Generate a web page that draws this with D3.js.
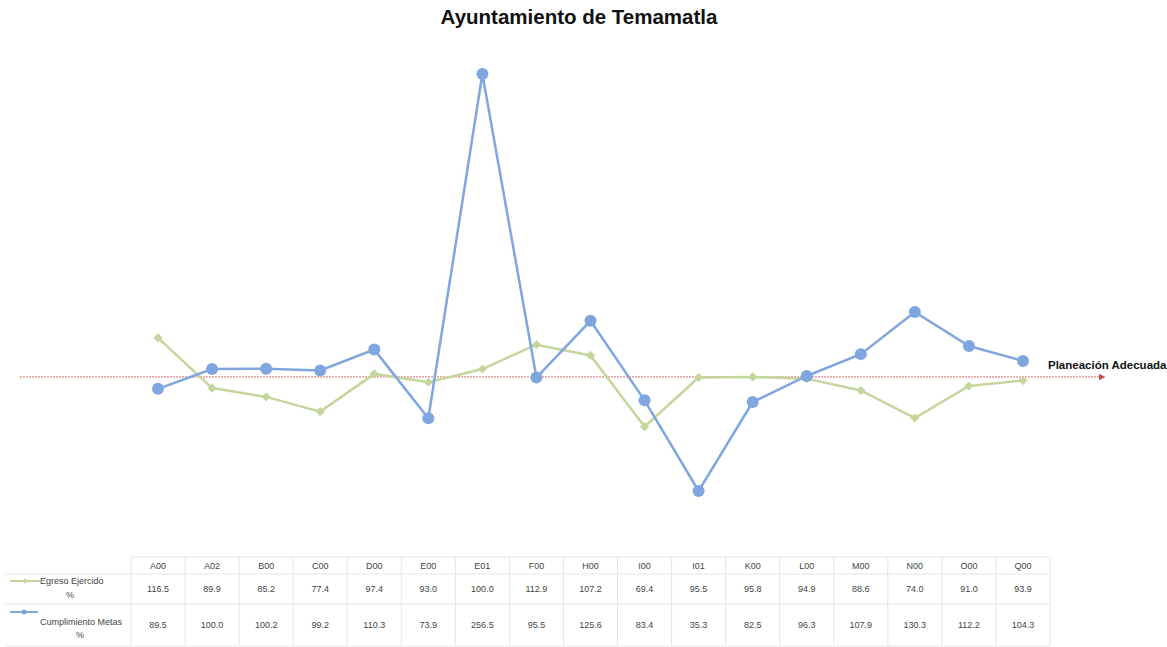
<!DOCTYPE html>
<html>
<head>
<meta charset="utf-8">
<script src="https://cdn.jsdelivr.net/npm/d3@7"></script>
<style>
  body { margin: 0; background: #fff; }
  svg { font-family: "Liberation Sans", Arial, sans-serif; }
</style>
</head>
<body>
<svg id="chart" width="1167" height="647"></svg>
<script>
const categories = ["A00","A02","B00","C00","D00","E00","E01","F00","H00","I00","I01","K00","L00","M00","N00","O00","Q00"];
const egreso = [116.5, 89.9, 85.2, 77.4, 97.4, 93.0, 100.0, 112.9, 107.2, 69.4, 95.5, 95.8, 94.9, 88.6, 74.0, 91.0, 93.9];
const metas = [89.5, 100.0, 100.2, 99.2, 110.3, 73.9, 256.5, 95.5, 125.6, 83.4, 35.3, 82.5, 96.3, 107.9, 130.3, 112.2, 104.3];
const seriesNames = [["Egreso Ejercido", "%"], ["Cumplimiento Metas", "%"]];
const planeacion = 95.8;

const svg = d3.select("#chart");

const xScale = d3.scaleBand()
                .domain(categories)
                .range([131, 1050])
                .padding(0);
const cx = d => xScale(d) + xScale.bandwidth() / 2;

const yScale = d3.scaleLinear()
                .domain([20, 270])
                .range([519.8, 48.6]);

const green = "#c4d69c";
const blue = "#7fa6de";

// title
svg.append("text")
   .attr("x", 579).attr("y", 24)
   .attr("text-anchor", "middle")
   .attr("font-size", 20.5).attr("font-weight", "bold")
   .attr("fill", "#111")
   .text("Ayuntamiento de Temamatla");

// reference arrow
svg.append("defs").append("marker")
   .attr("id", "arrow")
   .attr("viewBox", "0 0 10 10")
   .attr("refX", 5).attr("refY", 5)
   .attr("markerWidth", 7).attr("markerHeight", 7)
   .attr("orient", "auto")
   .append("path")
   .attr("d", "M0,0 L10,5 L0,10 z")
   .attr("fill", "#c0504d");

svg.append("line")
   .attr("x1", 20).attr("x2", 1102)
   .attr("y1", yScale(planeacion)).attr("y2", yScale(planeacion))
   .attr("stroke", "#e06666")
   .attr("stroke-width", 1)
   .attr("stroke-dasharray", "2,1")
   .attr("marker-end", "url(#arrow)");

svg.append("text")
   .attr("x", 1048).attr("y", yScale(planeacion) - 8)
   .attr("font-size", 11.5).attr("font-weight", "bold")
   .attr("fill", "#111")
   .text("Planeación Adecuada");

const line = d3.line()
               .x((d, i) => cx(categories[i]))
               .y(d => yScale(d));

// green series
svg.append("path")
   .datum(egreso)
   .attr("d", line)
   .attr("fill", "none")
   .attr("stroke", green)
   .attr("stroke-width", 2.5);

const diamond = d3.symbol().type(d3.symbolSquare).size(42);
svg.selectAll(".eg")
   .data(egreso)
   .enter().append("path")
   .attr("class", "eg")
   .attr("d", diamond)
   .attr("transform", (d, i) => `translate(${cx(categories[i])},${yScale(d)}) rotate(45)`)
   .attr("fill", green);

// blue series
svg.append("path")
   .datum(metas)
   .attr("d", line)
   .attr("fill", "none")
   .attr("stroke", blue)
   .attr("stroke-width", 2.5);

svg.selectAll(".mt")
   .data(metas)
   .enter().append("circle")
   .attr("class", "mt")
   .attr("cx", (d, i) => cx(categories[i]))
   .attr("cy", d => yScale(d))
   .attr("r", 6)
   .attr("fill", blue);

// data table
const rowY = [557, 574, 604, 646];
const grid = "#e6e6e6";
const table = svg.append("g").attr("font-size", 9).attr("fill", "#444");

table.append("line")
     .attr("x1", 131).attr("x2", 1050)
     .attr("y1", rowY[0]).attr("y2", rowY[0])
     .attr("stroke", grid);
rowY.slice(1).forEach(y => {
  table.append("line")
       .attr("x1", 5).attr("x2", 1050)
       .attr("y1", y).attr("y2", y)
       .attr("stroke", grid);
});
categories.concat([null]).forEach((c, i) => {
  const x = c ? xScale(c) : 1050;
  table.append("line")
       .attr("x1", x).attr("x2", x)
       .attr("y1", rowY[0]).attr("y2", rowY[3])
       .attr("stroke", grid);
});

table.selectAll(".hdr")
     .data(categories)
     .enter().append("text")
     .attr("x", d => cx(d))
     .attr("y", 569)
     .attr("text-anchor", "middle")
     .text(d => d);

[egreso, metas].forEach((vals, r) => {
  const y = r === 0 ? 592 : 628;
  table.selectAll(".v" + r)
       .data(vals)
       .enter().append("text")
       .attr("x", (d, i) => cx(categories[i]))
       .attr("y", y)
       .attr("text-anchor", "middle")
       .text(d => d.toFixed(1));
});

// legend keys in table
table.append("line")
     .attr("x1", 10).attr("x2", 40).attr("y1", 581).attr("y2", 581)
     .attr("stroke", green).attr("stroke-width", 2);
table.append("path")
     .attr("d", d3.symbol().type(d3.symbolSquare).size(14))
     .attr("transform", "translate(25,581) rotate(45)")
     .attr("fill", green);
table.append("text").attr("x", 40).attr("y", 584).text(seriesNames[0][0]);
table.append("text").attr("x", 70).attr("y", 598).attr("text-anchor", "middle").text(seriesNames[0][1]);

table.append("line")
     .attr("x1", 10).attr("x2", 38).attr("y1", 612).attr("y2", 612)
     .attr("stroke", blue).attr("stroke-width", 2);
table.append("circle")
     .attr("cx", 24).attr("cy", 612).attr("r", 2.5)
     .attr("fill", blue);
table.append("text").attr("x", 40).attr("y", 625).text(seriesNames[1][0]);
table.append("text").attr("x", 80).attr("y", 638).attr("text-anchor", "middle").text(seriesNames[1][1]);
</script>
</body>
</html>
